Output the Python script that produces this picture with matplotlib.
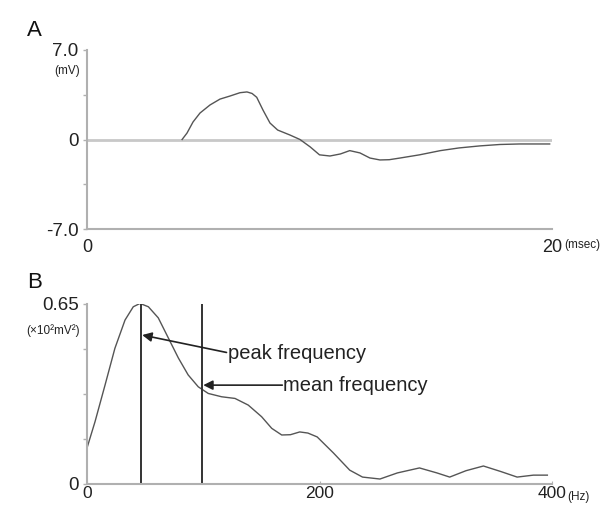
import matplotlib.pyplot as plt
import numpy as np

plt.rcParams['font.family'] = ['Liberation Sans', 'DejaVu Sans']

# panel A: waveform (msec, mV)
t_ms = [4.09, 4.3, 4.56, 4.86, 5.29, 5.72, 6.15, 6.58, 6.88, 7.1, 7.3, 7.57,
        7.87, 8.2, 8.73, 9.16, 9.6, 10.0, 10.45, 10.9, 11.3, 11.74, 12.17,
        12.6, 13.0, 13.46, 14.3, 15.2, 16.0, 16.9, 17.76, 18.6, 19.9]
v_mv = [0.0, 0.5, 1.37, 2.07, 2.7, 3.16, 3.4, 3.66, 3.72, 3.6, 3.3, 2.3,
        1.29, 0.74, 0.35, 0.0, -0.58, -1.2, -1.29, -1.13, -0.87, -1.05, -1.45,
        -1.6, -1.58, -1.45, -1.2, -0.87, -0.66, -0.5, -0.39, -0.35, -0.35]

# panel B: power spectrum (Hz, x10^2 mV^2)
f_hz = [0, 6.9, 15.5, 24, 32.7, 39.8, 45.6, 52.8, 61.3, 70, 78.6, 87, 95.7,
        104.3, 115.8, 127.3, 138.7, 150.2, 158.9, 167.5, 175, 183, 190, 198,
        212, 226, 237, 252, 267, 286, 301, 312, 326, 341, 356, 370, 384, 396]
power = [0.13, 0.225, 0.357, 0.49, 0.592, 0.64, 0.652, 0.64, 0.6, 0.527,
         0.455, 0.394, 0.351, 0.327, 0.315, 0.309, 0.285, 0.243, 0.201,
         0.177, 0.178, 0.188, 0.184, 0.17, 0.112, 0.05, 0.025, 0.018, 0.04,
         0.058, 0.04, 0.025, 0.048, 0.065, 0.045, 0.025, 0.032, 0.032]
peak_f = 46.5
mean_f = 99

W, H = 608, 505
fig = plt.figure(figsize=(W/100, H/100), dpi=100)

def px_axes(x0, y0, x1, y1):
    return fig.add_axes([x0/W, 1-y1/H, (x1-x0)/W, (y1-y0)/H])

axis_col = '#b0b0b0'
line_col = '#555555'
txt_col = '#222222'

# ---- A ----
axA = px_axes(87, 50, 552, 229)
axA.plot(t_ms, v_mv, color=line_col, lw=1.0)
axA.axhline(0, color='#c8c8c8', lw=2.0, zorder=0)
axA.set_xlim(0, 20)
axA.set_ylim(-7, 7)
axA.set_yticks([-7, -3.5, 0, 3.5, 7], ['-7.0', '', '0', '', '7.0'])
axA.set_xticks([0, 20], ['0', '20'])
axA.tick_params(axis='y', length=3, width=1, color=axis_col, labelsize=13.5,
                pad=3, labelcolor=txt_col)
axA.tick_params(axis='x', length=0, labelsize=13, pad=7, labelcolor=txt_col)
for s in ['top', 'right']:
    axA.spines[s].set_visible(False)
for s in ['left', 'bottom']:
    axA.spines[s].set_color(axis_col)
    axA.spines[s].set_linewidth(1.5)
axA.text(-0.015, 0.88, '(mV)', transform=axA.transAxes, ha='right', va='center',
         fontsize=8.5, color=txt_col)
axA.text(1.027, -0.09, '(msec)', transform=axA.transAxes, ha='left', va='center',
         fontsize=8.5, color=txt_col)
fig.text(27/W, 1-30/H, 'A', fontsize=16, ha='left', va='center', color='#111111')

# ---- B ----
axB = px_axes(87, 304, 552, 484)
axB.plot(f_hz, power, color=line_col, lw=1.0)
axB.vlines([peak_f, mean_f], 0, 0.65, color='#333333', lw=1.4)
axB.set_xlim(0, 400)
axB.set_ylim(0, 0.65)
axB.set_yticks([0, 0.1625, 0.325, 0.4875, 0.65], ['0', '', '', '', '0.65'])
axB.set_xticks([0, 200, 400], ['0', '200', '400'])
axB.tick_params(axis='y', length=3, width=1, color=axis_col, labelsize=13.5,
                pad=3, labelcolor=txt_col)
axB.tick_params(axis='x', length=2, direction='in', color=axis_col,
                labelsize=12.5, pad=1.5, labelcolor=txt_col)
for s in ['top', 'right']:
    axB.spines[s].set_visible(False)
for s in ['left', 'bottom']:
    axB.spines[s].set_color(axis_col)
    axB.spines[s].set_linewidth(1.5)
axB.text(-0.015, 0.85, '(\u00d710\u00b2mV\u00b2)', transform=axB.transAxes,
         ha='right', va='center', fontsize=8.5, color=txt_col)
axB.text(1.032, -0.07, '(Hz)', transform=axB.transAxes, ha='left', va='center',
         fontsize=8.5, color=txt_col)
fig.text(27/W, 1-282/H, 'B', fontsize=16, ha='left', va='center', color='#111111')

arrow = dict(arrowstyle='-|>', color='#222222', lw=1.2, mutation_scale=14,
             shrinkA=0, shrinkB=0)
axB.annotate('', xy=(47.5, 0.538), xytext=(120, 0.475), arrowprops=arrow)
axB.text(121, 0.473, 'peak frequency', fontsize=14.5, ha='left', va='center',
         color=txt_col)
axB.annotate('', xy=(100, 0.357), xytext=(168, 0.357), arrowprops=arrow)
axB.text(169, 0.355, 'mean frequency', fontsize=14.5, ha='left', va='center',
         color=txt_col)

fig.savefig('out.png', dpi=100)
